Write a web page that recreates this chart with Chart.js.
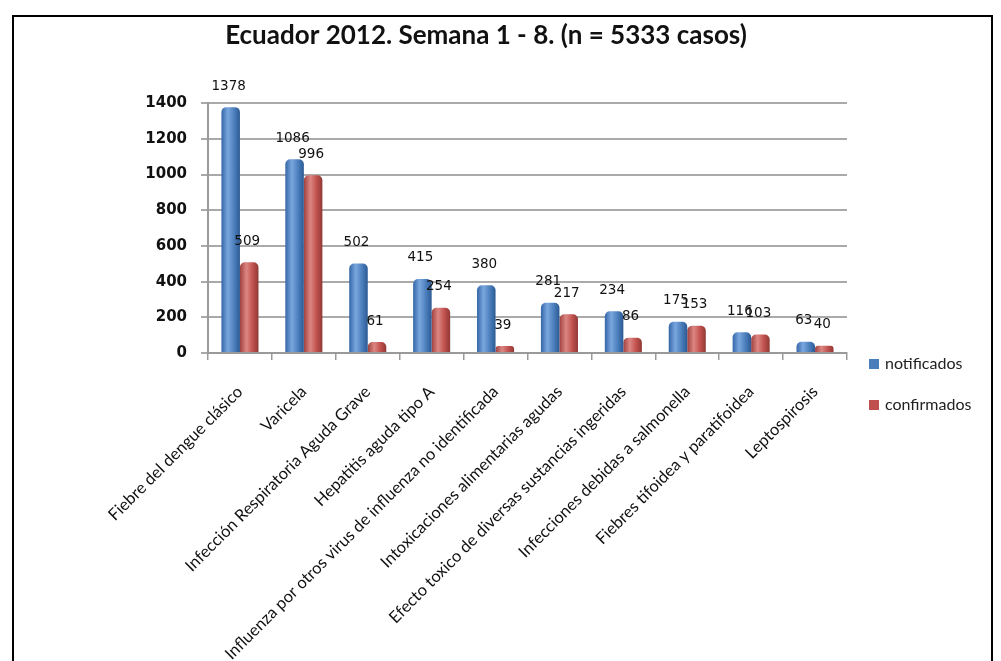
<!DOCTYPE html>
<html>
<head>
<meta charset="utf-8">
<script src="https://cdn.jsdelivr.net/npm/chart.js@4"></script>
<style>
  html, body { margin: 0; padding: 0; background: #fff; }
  #marco { position: absolute; left: 12px; top: 15px; width: 977px; height: 700px; border: 2px solid #000; }
  #lienzo { position: absolute; left: 0; top: 0; width: 972px; height: 661px; }
  .leyenda { position: absolute; left: 869px; font: 16px Lato, sans-serif; color: #222; line-height: 20px; }
  .leyenda span { display: inline-block; width: 10px; height: 10px; margin-right: 6px; vertical-align: 0px; }
</style>
</head>
<body>
<div id="marco"></div>
<div id="lienzo"><canvas id="grafico" width="972" height="661"></canvas></div>
<div class="leyenda" style="top:353px"><span style="background:#4a7ebb"></span>notificados</div>
<div class="leyenda" style="top:394px"><span style="background:#c0504d"></span>confirmados</div>
<script>
// datos de la semana 1 - 8
const categorias = [
    'Fiebre del dengue clásico',
    'Varicela',
    'Infección Respiratoria Aguda Grave',
    'Hepatitis aguda tipo A',
    'Influenza por otros virus de influenza no identificada',
    'Intoxicaciones alimentarias agudas',
    'Efecto toxico de diversas sustancias ingeridas',
    'Infecciones debidas a salmonella',
    'Fiebres tifoidea y paratifoidea',
    'Leptospirosis'
];
const notificados = [1378, 1086, 502, 415, 380, 281, 234, 175, 116, 63];
const confirmados = [509, 996, 61, 254, 39, 217, 86, 153, 103, 40];

const pctCategoria = 0.58;

// degradado horizontal para que parezca un cilindro
function cilindro(oscuro, base, brillo, borde) {
    return (ctx) => {
        const xs = ctx.chart.scales.x;
        if (!xs || ctx.type !== 'data') return base;
        const cat = xs.width / categorias.length;
        const w = cat * pctCategoria / 2;
        const centro = xs.getPixelForValue(ctx.dataIndex);
        const izq = centro - w + ctx.datasetIndex * w;
        if (!isFinite(izq) || !isFinite(w) || w <= 0) return base;
        const g = ctx.chart.ctx.createLinearGradient(izq, 0, izq + w, 0);
        g.addColorStop(0, oscuro);
        g.addColorStop(0.35, brillo);
        g.addColorStop(0.7, base);
        g.addColorStop(1, borde);
        return g;
    };
}

// etiquetas de valores encima de cada barra
const etiquetas = {
    id: 'etiquetas',
    afterDatasetsDraw(chart) {
        const c = chart.ctx;
        c.save();
        c.font = '13.5px "DejaVu Sans"';
        c.fillStyle = '#111';
        c.textAlign = 'center';
        c.textBaseline = 'middle';
        chart.data.datasets.forEach((ds, i) => {
            chart.getDatasetMeta(i).data.forEach((bar, j) => {
                c.fillText(ds.data[j], bar.x - 2, bar.y - 21);
            });
        });
        c.restore();
    }
};

new Chart(document.getElementById('grafico'), {
    type: 'bar',
    data: {
        labels: categorias,
        datasets: [{
            label: 'notificados',
            data: notificados,
            backgroundColor: cilindro('#3466a6', '#4a7ebb', '#7aa6de', '#2c5a94'),
            borderRadius: { topLeft: 5, topRight: 5 },
            borderSkipped: 'bottom',
            categoryPercentage: pctCategoria,
            barPercentage: 1
        }, {
            label: 'confirmados',
            data: confirmados,
            backgroundColor: cilindro('#a0413e', '#c0504d', '#dc8683', '#903936'),
            borderRadius: { topLeft: 5, topRight: 5 },
            borderSkipped: 'bottom',
            categoryPercentage: pctCategoria,
            barPercentage: 1
        }]
    },
    options: {
        responsive: false,
        animation: false,
        layout: { padding: { left: 125, right: 125, top: 0, bottom: 0 } },
        plugins: {
            legend: { display: false },
            tooltip: { enabled: false },
            title: {
                display: true,
                text: 'Ecuador 2012. Semana 1 - 8. (n = 5333 casos)',
                color: '#111',
                font: { family: 'Lato', size: 26, weight: 'bold' },
                padding: { top: 20, bottom: 52 }
            }
        },
        scales: {
            x: {
                afterFit: (s) => { s.height = 308; },
                grid: { offset: true, drawOnChartArea: false, tickLength: 7, color: '#9a9a9a', lineWidth: 1.5 },
                border: { color: '#9a9a9a', width: 2 },
                ticks: {
                    autoSkip: false,
                    maxRotation: 45,
                    minRotation: 45,
                    padding: 22,
                    color: '#111',
                    font: { family: 'Lato', size: 16.5 }
                }
            },
            y: {
                min: 0,
                max: 1400,
                afterFit: (s) => { s.width = 83; },
                grid: { color: '#aaaaaa', lineWidth: 2, tickLength: 7 },
                border: { color: '#9a9a9a', width: 2 },
                ticks: {
                    stepSize: 200,
                    padding: 14,
                    color: '#111',
                    callback: (v) => String(v),
                    font: { family: 'DejaVu Sans', size: 15, weight: 'bold' }
                }
            }
        }
    },
    plugins: [etiquetas]
});
</script>
</body>
</html>
